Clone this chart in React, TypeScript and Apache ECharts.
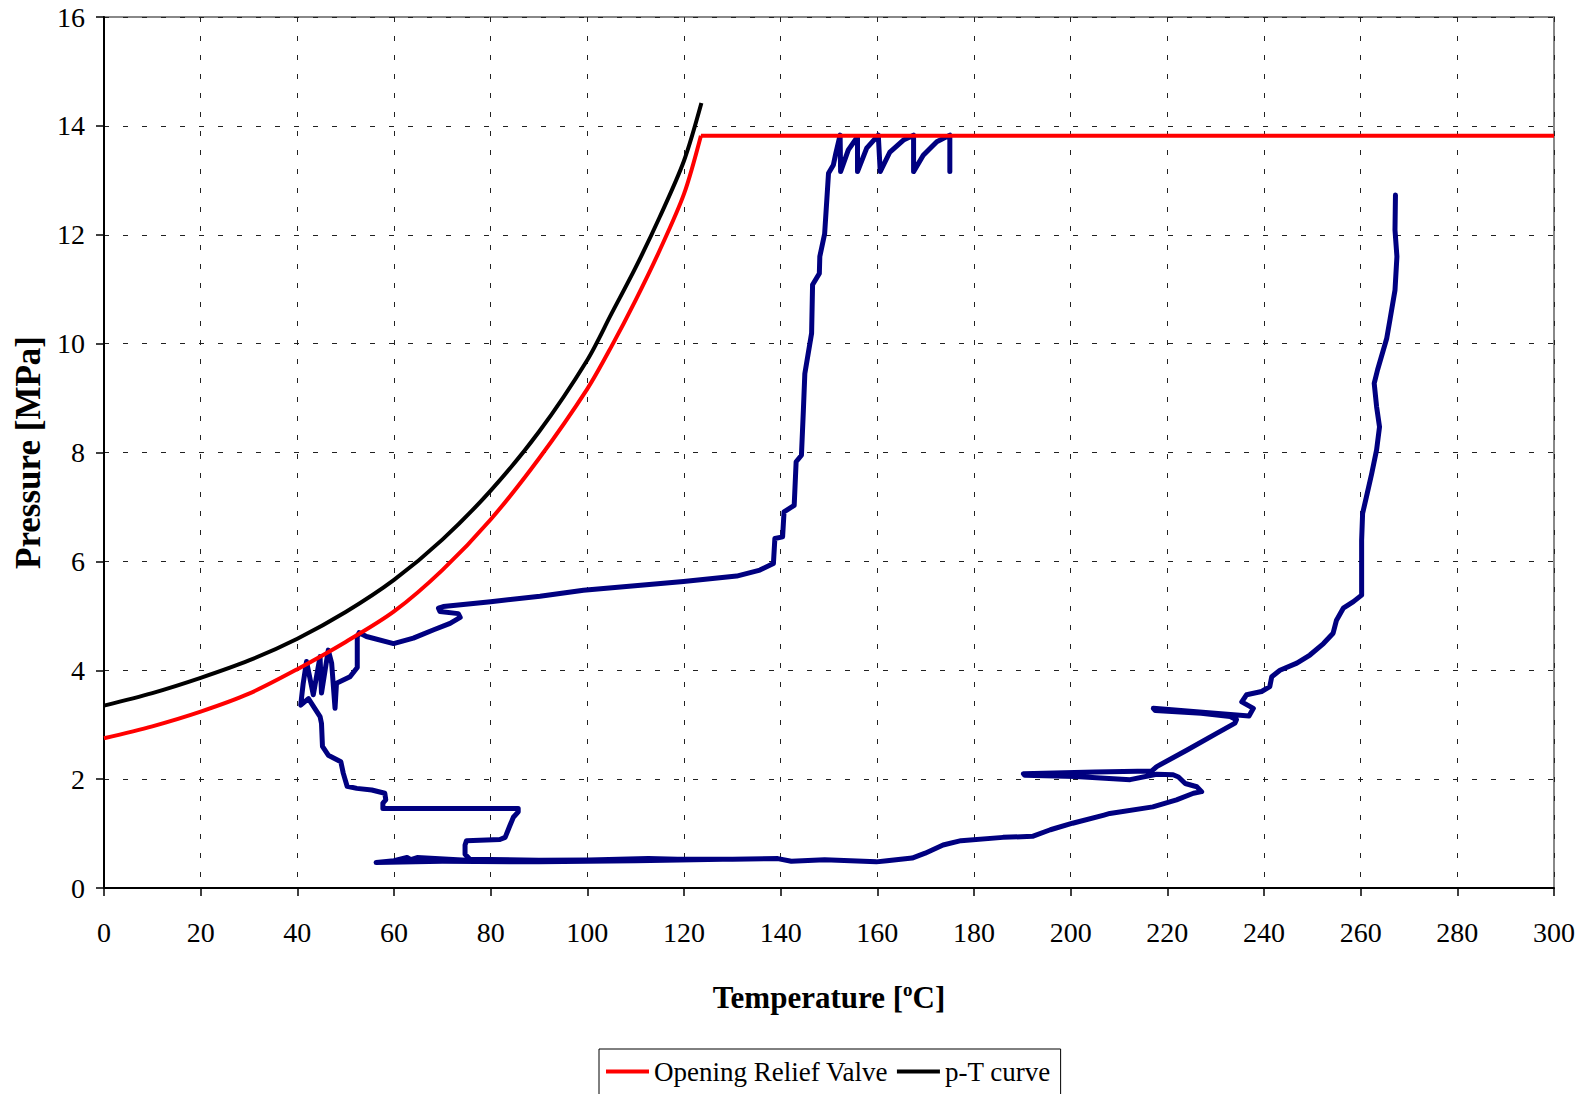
import React, { useEffect, useRef } from "react";
import * as echarts from "echarts";

// Opening Relief Valve curve [T °C, p MPa] (curved part and flat part)
const reliefValveCurve: number[][] = [
  [0, 2.75], [10, 2.97], [20, 3.24], [30, 3.57], [40, 4.02], [50, 4.52],
  [60, 5.08], [70, 5.84], [80, 6.77], [90, 7.89], [100, 9.17], [105, 9.95],
  [110, 10.8], [115, 11.72], [120, 12.75], [123.5, 13.82],
];
const reliefValveFlat: number[][] = [[123.5, 13.82], [300, 13.82]];

// p-T curve
const ptCurve: number[][] = [
  [0, 3.35], [10, 3.58], [20, 3.86], [30, 4.18], [40, 4.58], [50, 5.07],
  [60, 5.66], [70, 6.4], [80, 7.3], [90, 8.38], [100, 9.7], [105, 10.55],
  [110, 11.4], [115, 12.33], [120, 13.36], [123.6, 14.42],
];

// Measured trajectory (right branch)
const measuredRight: number[][] = [
  [267.2, 12.73], [267.1, 12.09], [267.5, 11.6], [267.1, 10.98], [266.1, 10.46],
  [265.4, 10.1], [263.5, 9.52], [262.8, 9.27], [263.3, 8.84], [263.9, 8.47],
  [263.3, 8.05], [262.3, 7.62], [261.2, 7.19], [260.4, 6.88], [260.2, 6.39],
  [260.2, 5.38], [258.5, 5.26], [256.4, 5.14], [255.0, 4.92], [254.3, 4.68],
  [252.3, 4.49], [249.5, 4.28], [246.8, 4.13], [243.3, 4.0], [241.6, 3.88],
  [241.2, 3.7], [239.5, 3.61], [236.4, 3.55], [235.4, 3.42], [237.8, 3.3],
  [236.9, 3.16], [226.0, 3.24], [217.1, 3.3], [217.5, 3.26], [227.0, 3.21],
  [233.0, 3.15], [234.3, 3.09], [234.0, 3.03], [230.2, 2.84], [224.0, 2.53],
  [217.8, 2.23], [216.8, 2.15], [205.0, 2.13], [190.2, 2.1], [190.5, 2.07],
  [201.0, 2.05], [212.3, 1.99], [217.8, 2.09], [221.2, 2.08], [222.3, 2.04],
  [223.7, 1.92], [226.1, 1.86], [227.1, 1.77], [225.4, 1.74], [221.9, 1.62],
  [217.0, 1.49], [208.1, 1.37], [206.9, 1.34], [200.4, 1.19], [195.8, 1.07],
  [192.1, 0.95], [186.0, 0.93], [177.3, 0.87], [173.6, 0.79], [169.9, 0.64],
  [167.2, 0.55], [162.0, 0.5], [159.8, 0.48],
];

// Measured trajectory (bottom line and lower-left branch)
const measuredBottom: number[][] = [
  [149.1, 0.52], [142.2, 0.49], [139.4, 0.54], [130.0, 0.53], [118.7, 0.53],
  [112.6, 0.54], [94.2, 0.5], [75.0, 0.51], [64.8, 0.56], [63.5, 0.52],
  [62.7, 0.56], [60.0, 0.5], [56.3, 0.47], [70.0, 0.49], [90.0, 0.48],
  [110.0, 0.5], [128.0, 0.53], [110.0, 0.52], [90.0, 0.51], [75.7, 0.53],
  [74.7, 0.62], [74.7, 0.79], [75.0, 0.87], [81.9, 0.89], [83.0, 0.93],
  [83.9, 1.13], [84.7, 1.3], [85.7, 1.4], [85.7, 1.46], [57.7, 1.46],
  [57.7, 1.56], [58.3, 1.62], [58.1, 1.74], [55.4, 1.8], [52.3, 1.83],
  [50.3, 1.87], [49.5, 2.11], [49.0, 2.32], [46.4, 2.44], [45.2, 2.6],
  [45.0, 3.02], [44.7, 3.15], [42.3, 3.48],
];

// Measured trajectory (zigzag, middle plateau and vertical rise with saw-tooth)
const measuredUpper: number[][] = [
  [40.7, 3.36], [41.2, 3.75], [41.9, 4.16], [43.3, 3.55], [44.7, 4.25],
  [45.0, 3.58], [46.4, 4.37], [47.1, 4.13], [47.8, 3.3], [48.1, 3.76],
  [50.9, 3.88], [52.4, 4.05], [52.4, 4.62], [52.8, 4.69], [54.3, 4.62],
  [59.9, 4.49], [64.0, 4.59], [68.1, 4.74], [71.6, 4.86], [73.7, 4.97],
  [73.3, 5.04], [69.5, 5.08], [69.2, 5.14], [70.2, 5.17], [80.0, 5.26],
  [90.2, 5.36], [99.2, 5.47], [119.9, 5.63], [130.9, 5.73], [135.7, 5.84],
  [138.5, 5.96], [138.8, 6.42], [140.4, 6.45], [140.7, 6.91], [142.8, 7.03],
  [143.2, 7.83], [144.3, 7.95], [144.7, 8.78], [145.0, 9.45], [146.4, 10.19],
  [146.6, 11.08], [148.0, 11.29], [148.1, 11.6], [149.1, 12.02], [149.9, 13.13],
  [150.9, 13.28], [151.4, 13.49], [152.3, 13.83], [152.4, 13.16], [154.0, 13.56],
  [155.9, 13.8], [155.9, 13.16], [157.8, 13.59], [160.2, 13.83], [160.6, 13.16],
  [162.6, 13.52], [165.4, 13.74], [167.5, 13.83], [167.5, 13.16], [169.5, 13.46],
  [172.3, 13.71], [175.0, 13.83], [175.0, 13.16],
];

const measured: number[][] = [...measuredRight, ...measuredBottom, ...measuredUpper];

const FONT = "'Liberation Serif', 'Times New Roman', serif";

export default function App() {
  const ref = useRef<HTMLDivElement>(null);
  useEffect(() => {
    if (!ref.current) return;
    const chart = echarts.init(ref.current, undefined, { renderer: "svg" });
    const splitLine = {
      show: true,
      lineStyle: { color: "#222", width: 1, type: [5, 14] as any },
    };
    chart.setOption({
      animation: false,
      backgroundColor: "#fff",
      grid: {
        left: 104, top: 17, right: 36, bottom: 206,
        show: true, borderColor: "#888", borderWidth: 2, backgroundColor: "transparent",
      },
      legend: {
        data: [
          { name: "Opening Relief Valve", icon: "rect" },
          { name: "p-T curve", icon: "rect" },
        ],
        left: 599, top: 1049,
        orient: "horizontal",
        borderColor: "#000", borderWidth: 1,
        padding: [9, 10, 30, 7],
        itemWidth: 43, itemHeight: 4, itemGap: 9,
        textStyle: { fontFamily: FONT, fontSize: 27, color: "#000" },
      },
      xAxis: {
        type: "value", min: 0, max: 300, interval: 20,
        name: "{a|Temperature [}{s|o}{a|C]}",
        nameLocation: "middle", nameGap: 92,
        nameTextStyle: {
          rich: {
            a: { fontFamily: FONT, fontSize: 31, fontWeight: "bold", color: "#000", lineHeight: 34 },
            s: { fontFamily: FONT, fontSize: 19, fontWeight: "bold", color: "#000", verticalAlign: "top", lineHeight: 20 },
          },
        },
        axisLine: { show: true, onZero: false, lineStyle: { color: "#000", width: 2 } },
        axisTick: { show: true, length: 8, lineStyle: { color: "#000", width: 1.5 } },
        axisLabel: { fontFamily: FONT, fontSize: 28, color: "#000", margin: 30 },
        splitLine,
      },
      yAxis: {
        type: "value", min: 0, max: 16, interval: 2,
        name: "Pressure [MPa]",
        nameLocation: "middle", nameGap: 55, nameRotate: 90,
        nameTextStyle: { fontFamily: FONT, fontSize: 35, fontWeight: "bold", color: "#000" },
        axisLine: { show: true, onZero: false, lineStyle: { color: "#000", width: 2 } },
        axisTick: { show: true, length: 8, lineStyle: { color: "#000", width: 1.5 } },
        axisLabel: { fontFamily: FONT, fontSize: 28, color: "#000", margin: 19 },
        splitLine,
      },
      series: [
        {
          name: "Measured",
          type: "line",
          data: measured,
          symbol: "none",
          showSymbol: false,
          lineStyle: { color: "#000080", width: 5, cap: "round", join: "round" },
          itemStyle: { color: "#000080" },
          z: 2,
        },
        {
          name: "Opening Relief Valve",
          type: "line",
          data: reliefValveCurve,
          symbol: "none",
          showSymbol: false,
          smooth: 0.3,
          lineStyle: { color: "#ff0000", width: 4 },
          itemStyle: { color: "#ff0000" },
          z: 3,
        },
        {
          name: "Opening Relief Valve",
          type: "line",
          data: reliefValveFlat,
          symbol: "none",
          showSymbol: false,
          lineStyle: { color: "#ff0000", width: 4 },
          itemStyle: { color: "#ff0000" },
          z: 3,
        },
        {
          name: "p-T curve",
          type: "line",
          data: ptCurve,
          symbol: "none",
          showSymbol: false,
          smooth: 0.3,
          lineStyle: { color: "#000", width: 4 },
          itemStyle: { color: "#000" },
          z: 3,
        },
      ],
    });
    return () => chart.dispose();
  }, []);
  return (
    <div
      ref={ref}
      style={{ position: "absolute", left: 0, top: 0, width: 1590, height: 1094, background: "#fff" }}
    />
  );
}
